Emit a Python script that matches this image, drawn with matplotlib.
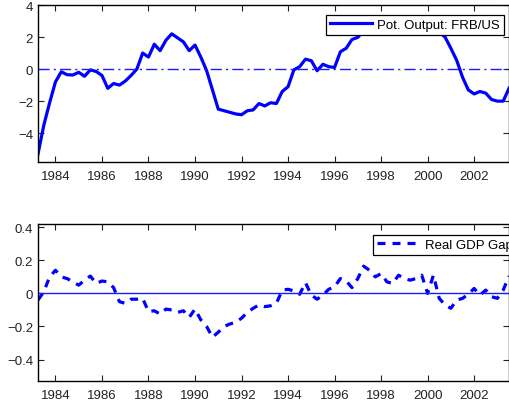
import numpy as np
import matplotlib.pyplot as plt

plt.rcParams['font.family'] = ['Liberation Sans', 'DejaVu Sans']
plt.rcParams['font.size'] = 9.5

# quarterly dates, 1983Q2 .. 2003Q3
quarters = np.arange(1983.25, 2003.5 + 0.01, 0.25)

# potential output gap, FRB/US
pot_output = [
    -5.3, -3.5, -2.1,                       # 1983
    -0.8, -0.17, -0.35, -0.37,              # 1984
    -0.2, -0.45, -0.05, -0.15,              # 1985
    -0.4, -1.2, -0.9, -1.0,                 # 1986
    -0.75, -0.4, 0.0, 1.0,                  # 1987
    0.75, 1.55, 1.15, 1.8,                  # 1988
    2.2, 1.95, 1.7, 1.15,                   # 1989
    1.5, 0.75, -0.1, -1.3,                  # 1990
    -2.5, -2.6, -2.7, -2.8,                 # 1991
    -2.85, -2.6, -2.55, -2.15,              # 1992
    -2.3, -2.1, -2.15, -1.4,                # 1993
    -1.1, -0.05, 0.15, 0.62,                # 1994
    0.52, -0.1, 0.3, 0.15,                  # 1995
    0.1, 1.08, 1.3, 1.85,                   # 1996
    1.98, 2.4, 2.7, 2.75,                   # 1997
    2.6, 2.35, 2.38, 2.6,                   # 1998
    2.8, 2.9, 2.9, 2.85,                    # 1999
    2.7, 2.5, 2.3, 2.0,                     # 2000
    1.3, 0.55, -0.5, -1.3,                  # 2001
    -1.55, -1.4, -1.5, -1.9,                # 2002
    -2.0, -2.0, -1.2,                       # 2003
]

# real GDP gap
gdp_gap = [
    -0.04, 0.01, 0.10,
    0.14, 0.10, 0.09, 0.07,
    0.05, 0.08, 0.105, 0.06,
    0.075, 0.07, 0.035, -0.05,
    -0.06, -0.035, -0.035, -0.03,
    -0.11, -0.105, -0.125, -0.095,
    -0.10, -0.115, -0.105, -0.145,
    -0.095, -0.16, -0.2, -0.265,
    -0.235, -0.2, -0.185, -0.175,
    -0.15, -0.115, -0.09, -0.07,
    -0.08, -0.075, -0.06, 0.02,
    0.025, 0.015, -0.005, 0.065,
    -0.01, -0.035, -0.01, 0.025,
    0.04, 0.09, 0.075, 0.035,
    0.09, 0.165, 0.14, 0.10,
    0.12, 0.07, 0.06, 0.11,
    0.09, 0.08, 0.09, 0.11,
    0.0, 0.11, -0.03, -0.07,
    -0.09, -0.04, -0.03, -0.005,
    0.03, -0.01, 0.02, -0.02,
    -0.03, 0.02, 0.105,
]

year_ticks = np.arange(1984, 2003, 2)

fig = plt.figure(figsize=(5.09, 4.06), dpi=100)
ax1 = fig.add_axes([38 / 509, (406 - 163) / 406, 471 / 509, 157 / 406])
ax2 = fig.add_axes([38 / 509, (406 - 382) / 406, 471 / 509, 157 / 406])

ax1.plot(quarters, pot_output, color='#0000ff', lw=2.3, label='Pot. Output: FRB/US')
ax1.axhline(0, color='#1a1aff', lw=1.0, ls=(0, (8, 3, 1.5, 3)))
ax1.set_ylim(-5.8, 4)
ax1.set_yticks([-4, -2, 0, 2, 4])

ax2.plot(quarters, gdp_gap, color='#0000ff', lw=2.3, ls=(0, (2.5, 2.2)), label='Real GDP Gap')
ax2.axhline(0, color='#1a1aff', lw=1.0)
ax2.set_ylim(-0.53, 0.42)
ax2.set_yticks([-0.4, -0.2, 0, 0.2, 0.4])
ax2.set_yticklabels(['\u22120.4', '\u22120.2', '0', '0.2', '0.4'])

for ax in (ax1, ax2):
    ax.set_xlim(1983.25, 2003.5)
    ax.set_xticks(year_ticks)
    ax.tick_params(direction='in', top=True, right=True, length=4, width=0.8,
                   labelsize=9.5, colors='#222222')
    ax.tick_params(axis='x', pad=6)
    for s in ax.spines.values():
        s.set_linewidth(1.0)

leg1 = ax1.legend(loc='upper right', bbox_to_anchor=(1.003, 0.98), handlelength=3.2,
                  handletextpad=0.4, borderpad=0.3, fancybox=False, framealpha=1,
                  fontsize=9.5)
leg1.get_frame().set_edgecolor('black')
leg1.get_frame().set_linewidth(0.9)

leg2 = ax2.legend(loc='upper right', bbox_to_anchor=(1.03, 0.975), handlelength=3.2,
                  handletextpad=0.4, borderpad=0.3, fancybox=False, framealpha=1,
                  fontsize=9.5)
leg2.get_frame().set_edgecolor('black')
leg2.get_frame().set_linewidth(0.9)

fig.savefig('out.png', dpi=100)
